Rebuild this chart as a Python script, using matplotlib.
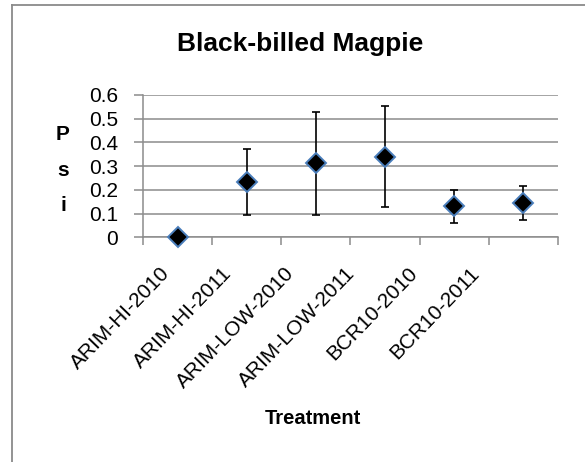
import matplotlib
matplotlib.use("Agg")
import matplotlib.pyplot as plt
import matplotlib.transforms as mtransforms
from matplotlib.lines import Line2D
import numpy as np

categories = ["ARIM-HI-2010", "ARIM-HI-2011", "ARIM-LOW-2010",
              "ARIM-LOW-2011", "BCR10-2010", "BCR10-2011"]
psi = [0.0, 0.234, 0.312, 0.340, 0.132, 0.145]
upper = [0.0, 0.372, 0.530, 0.553, 0.198, 0.216]
lower = [0.0, 0.095, 0.093, 0.128, 0.062, 0.072]
yticks = [0, 0.1, 0.2, 0.3, 0.4, 0.5, 0.6]
ytick_labels = ["0", "0.1", "0.2", "0.3", "0.4", "0.5", "0.6"]

plt.rcParams['font.family'] = ['Liberation Sans', 'DejaVu Sans']

W, H, DPI = 585, 462, 100
fig = plt.figure(figsize=(W / DPI, H / DPI), dpi=DPI)
fig.patch.set_facecolor("white")

grid_c = "#8c8c8c"
ax = fig.add_axes([143 / W, 1 - 237.3 / H, (558 - 143) / W, (237.3 - 95) / H])

x = np.arange(len(categories))
yerr = [np.array(psi) - np.array(lower), np.array(upper) - np.array(psi)]
ax.errorbar(x, psi, yerr=yerr, fmt='none', ecolor='black', elinewidth=1.2,
            capsize=3.0, capthick=1.2, zorder=3)
ax.plot(x, psi, linestyle='none', marker='D', markersize=9.8,
        markerfacecolor='black', markeredgecolor='#4a7ebb',
        markeredgewidth=1.4, zorder=4, clip_on=False)

ax.set_xlim(-0.5, len(categories) - 0.5)
ax.set_ylim(0, 0.6)
ax.set_yticks(yticks)
ax.set_yticklabels(ytick_labels, fontsize=15)
ax.yaxis.grid(True, color=grid_c, linewidth=1.1)
ax.set_axisbelow(True)

ax.set_xticks(x)
ax.set_xticklabels([])
ax.tick_params(axis='x', which='major', length=0)
ax.set_xticks(np.arange(-0.5, len(categories)), minor=True)
ax.tick_params(axis='x', which='minor', length=5.8, width=1.1, color=grid_c,
               direction='out')
ax.tick_params(axis='y', length=6.5, width=1.1, color=grid_c, pad=11.5,
               direction='out')

for s in ['top', 'right']:
    ax.spines[s].set_visible(False)
for s in ['left', 'bottom']:
    ax.spines[s].set_color(grid_c)
    ax.spines[s].set_linewidth(1.1)

# rotated category labels
for i, lab in enumerate(categories):
    tr = mtransforms.offset_copy(ax.transData, fig=fig,
                                 x=-10.5 - 7.4 * i, y=-33, units='dots')
    ax.text(i, 0, lab, transform=tr, rotation=46, rotation_mode='anchor',
            ha='right', va='center', fontsize=15, clip_on=False)

fig.text(300 / W, 1 - 44 / H, "Black-billed Magpie", ha='center',
         va='center', fontsize=19, fontweight='bold')
fig.text(313 / W, 1 - 418 / H, "Treatment", ha='center', va='center',
         fontsize=14.5, fontweight='bold')
fig.text(63 / W, 1 - 170 / H, "P\ns\ni", ha='center', va='center',
         fontsize=15, fontweight='bold', linespacing=2.1)

# chart frame
fig.add_artist(Line2D([12 / W, 12 / W], [0, 1 - 5 / H], transform=fig.transFigure,
                      color="#8a8a8a", linewidth=1.3))
fig.add_artist(Line2D([12 / W, 1], [1 - 5 / H, 1 - 5 / H], transform=fig.transFigure,
                      color="#8a8a8a", linewidth=1.3))

fig.savefig("out.png", dpi=DPI)
